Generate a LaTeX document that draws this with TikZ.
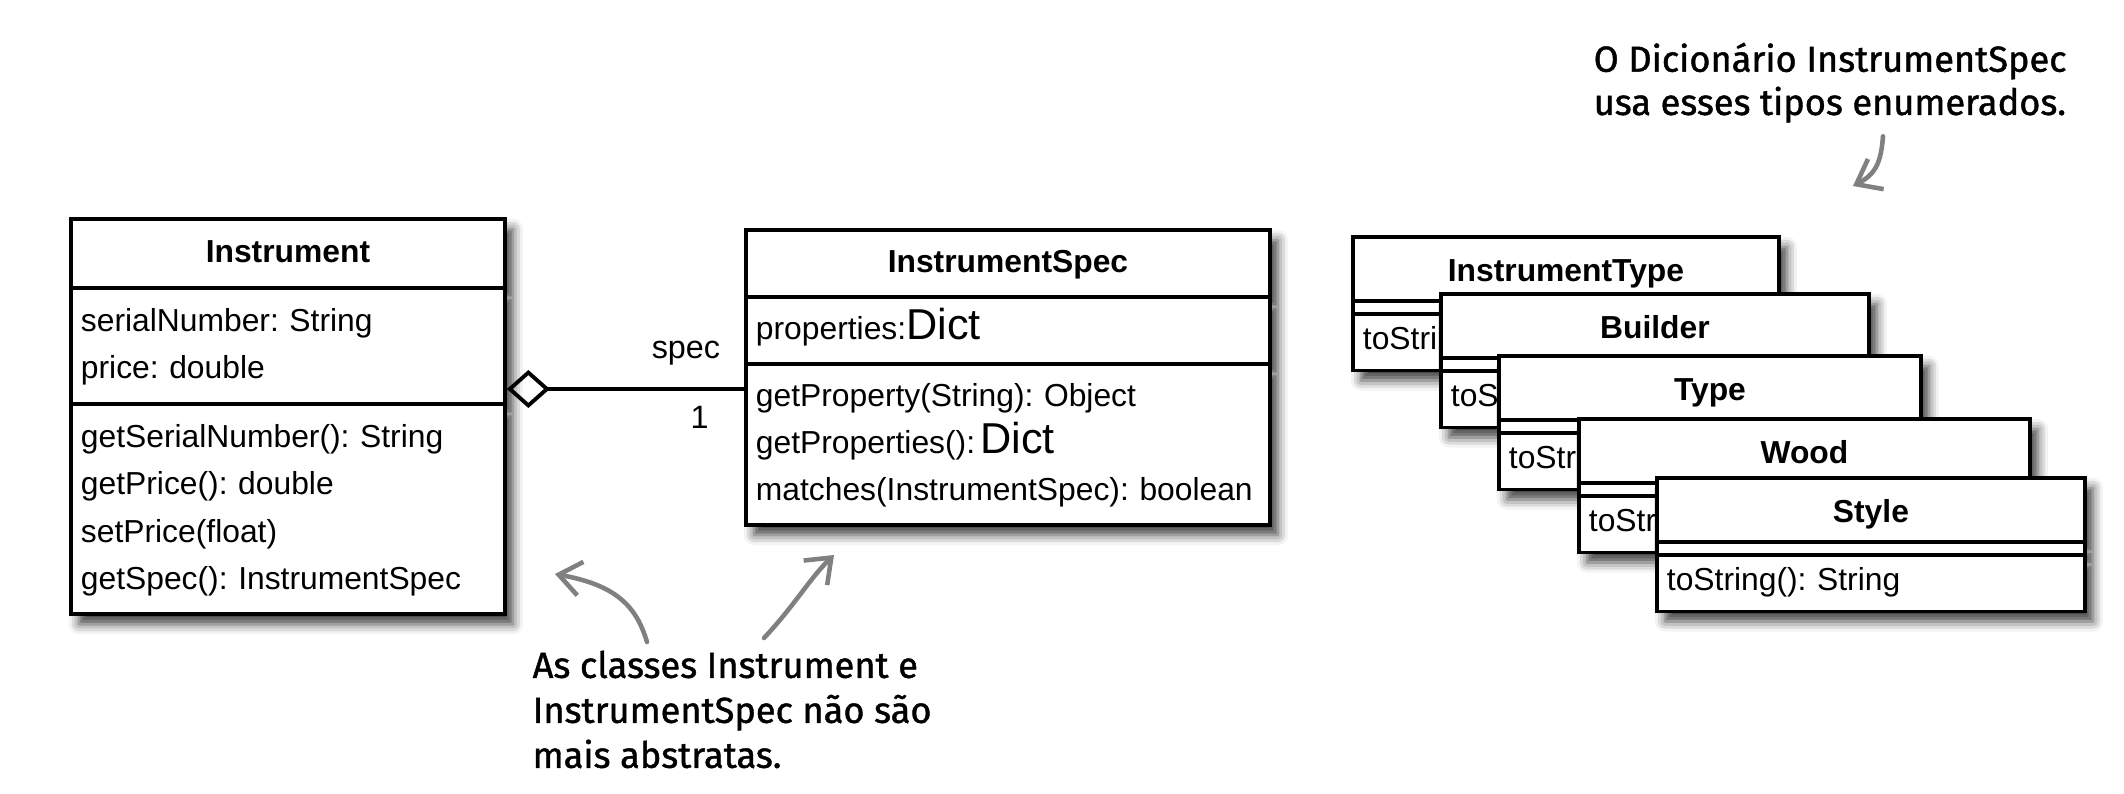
\documentclass[tikz,border=0pt]{standalone}
\usepackage{fontspec}
\setmainfont{Liberation Sans}
\newfontfamily\handfont{Fira Sans}[FakeBold=1.2]
\usetikzlibrary{shapes.multipart,shadows.blur,arrows.meta,positioning}
\frenchspacing
\newcommand{\hdstrut}{\rule[-0.13cm]{0pt}{0.51cm}}
\newcommand{\opstrut}{\rule[-0.15cm]{0pt}{0.44cm}}
\newcommand{\bigtype}[1]{{\fontsize{12.3pt}{13.4pt}\selectfont #1}}
\newcommand{\clsname}[1]{\makebox[\linewidth]{\textbf{#1}}}
\begin{document}
\begin{tikzpicture}[x=1cm, y=1cm,
  cls/.style={draw, line width=1.1pt, fill=white, rectangle split, rectangle split parts=3,
    anchor=north west, inner xsep=0.1cm, inner ysep=0.09cm, align=left,
    font=\fontsize{9.05pt}{13.4pt}\selectfont,
    blur shadow={shadow xshift=0.08cm, shadow yshift=-0.1cm, shadow blur radius=0.1cm, shadow opacity=75}},
  enm/.style={cls, inner ysep=0.045cm},
  agg/.style={line width=1.1pt, {Diamond[open, length=0.43cm, width=0.38cm]}-},
  rolelbl/.style={font=\fontsize{9.2pt}{11pt}\selectfont, inner sep=0pt},
  note/.style={font=\handfont\fontsize{10.3pt}{12.3pt}\selectfont, align=left, inner sep=0pt, anchor=north west},
  pointer/.style={draw=black!50, line width=1.3pt, line cap=round,
    -{Straight Barb[length=0.22cm, width=0.34cm]}}]
\useasboundingbox (0,0) rectangle (21.24,-7.94);
% the two classes
\node[cls, text width=4.14cm] (instr) at (0.69,-2.17)
  {\clsname{Instrument}\strut
   \nodepart{two}\strut serialNumber: String\\\strut price: double
   \nodepart{three}\strut getSerialNumber(): String\\\strut getPrice(): double\\
   \strut setPrice(float)\\\strut getSpec(): InstrumentSpec};
\node[cls, text width=5.04cm, inner ysep=0.08cm] (ispec) at (7.44,-2.28)
  {\clsname{InstrumentSpec}\strut
   \nodepart{two}\strut properties:\bigtype{Dict}
   \nodepart{three}\strut getProperty(String): Object\\\strut getProperties():\,\bigtype{Dict}\\
   \strut matches(InstrumentSpec): boolean};
\coordinate (aggy) at (0,-3.89);
\draw[agg] (instr.east |- aggy) -- (ispec.west |- aggy)
  node[rolelbl, pos=0.755, yshift=0.36cm] (role) {spec}
  node[rolelbl, pos=0.813, yshift=-0.28cm] (mult) {1};
% enumerated types, back to front
\node[enm, text width=4.06cm] (itype) at (13.51,-2.35)
  {\clsname{InstrumentType}\hdstrut\nodepart{two}\nodepart{three}\opstrut toString(): String};
\node[enm, text width=4.08cm] (builder) at (14.39,-2.92)
  {\clsname{Builder}\hdstrut\nodepart{two}\nodepart{three}\opstrut toString(): String};
\node[enm, text width=4.02cm] (type) at (14.97,-3.54)
  {\clsname{Type}\hdstrut\nodepart{two}\nodepart{three}\opstrut toString(): String};
\node[enm, text width=4.31cm] (wood) at (15.77,-4.17)
  {\clsname{Wood}\hdstrut\nodepart{two}\nodepart{three}\opstrut toString(): String};
\node[enm, text width=4.08cm] (style) at (16.55,-4.76)
  {\clsname{Style}\hdstrut\nodepart{two}\nodepart{three}\opstrut toString(): String};
% handwritten notes
\node[note] (topnote) at (15.93,-0.42) {O Dicionário InstrumentSpec\\usa esses tipos enumerados.};
\coordinate (enumtip) at (18.53,-1.86);
\draw[pointer] ([xshift=2.90cm, yshift=-0.13cm]topnote.south west)
  .. controls (18.81,-1.62) and (18.76,-1.74) .. (enumtip);
\node[note, font=\handfont\fontsize{10.3pt}{12.8pt}\selectfont] (botnote) at (5.32,-6.50)
  {As classes Instrument e\\InstrumentSpec não são\\mais abstratas.};
\coordinate (instrtip) at (5.55,-5.74);
\coordinate (spectip) at (8.34,-5.55);
\draw[pointer] ([xshift=1.15cm, yshift=0.08cm]botnote.north west)
  .. controls (6.36,-6.05) and (6.15,-5.85) .. (instrtip);
\draw[pointer] ([xshift=2.32cm, yshift=0.12cm]botnote.north west)
  .. controls (7.95,-6.05) and (8.1,-5.78) .. (spectip);
\end{tikzpicture}
\end{document}
